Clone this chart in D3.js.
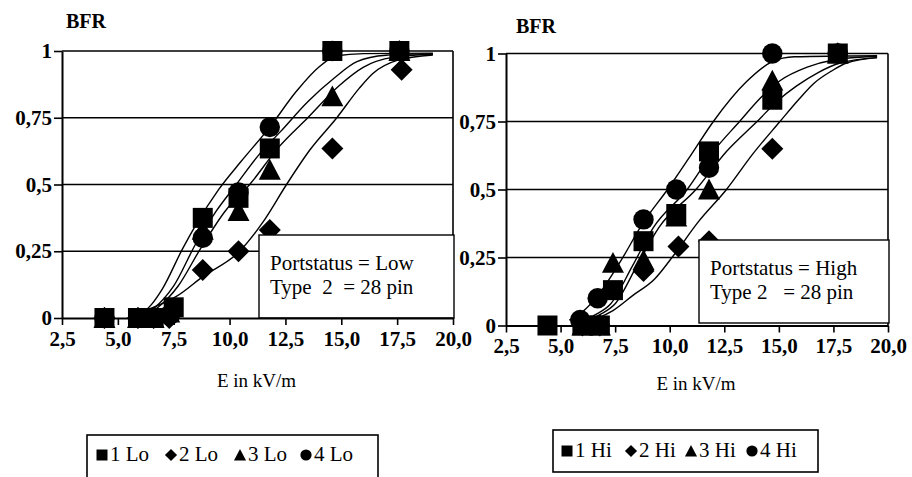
<!DOCTYPE html>
<html><head><meta charset="utf-8">
<script src="https://cdn.jsdelivr.net/npm/d3@7"></script>
<style>
body{margin:0;background:#fff}
svg{display:block}
svg text{font-family:"Liberation Serif","Times New Roman",serif !important;fill:#000}
</style>
</head><body>
<svg id="c" width="912" height="477"></svg>
<script>
// ---------- data ----------
const xTicks = [2.5, 5, 7.5, 10, 12.5, 15, 17.5, 20];
const xTickLabels = ["2,5", "5,0", "7,5", "10,0", "12,5", "15,0", "17,5", "20,0"];
const yTicks = [0, 0.25, 0.5, 0.75, 1];
const yTickLabels = ["0", "0,25", "0,5", "0,75", "1"];
const yTitle = "BFR";
const xTitle = "E in kV/m";

// Portstatus = Low
const lo1 = [[4.4,0],[5.9,0],[6.6,0],[7.5,0.04],[8.8,0.375],[10.4,0.45],[11.8,0.635],[14.6,1.0],[17.6,1.0]];
const lo2 = [[4.4,0],[5.9,0],[6.6,0],[7.3,0],[8.8,0.18],[10.4,0.25],[11.8,0.33],[14.6,0.635],[17.7,0.93]];
const lo3 = [[4.4,0],[5.9,0],[6.6,0],[7.3,0.02],[8.8,0.33],[10.4,0.40],[11.8,0.555],[14.6,0.83],[17.6,1.0]];
const lo4 = [[4.4,0],[5.9,0],[6.6,0],[7.3,0.01],[8.8,0.30],[10.4,0.47],[11.8,0.715],[14.6,1.0],[17.6,1.0]];
const loFitA = [[5.8,0],[6.5,0.05],[7.0,0.11],[7.9,0.26],[8.5,0.35],[9.5,0.48],[10.5,0.585],[11.8,0.715],[13.0,0.85],[14.0,0.94],[14.8,0.982],[16.0,0.99],[19.1,0.992]];
const loFitB = [[5.9,0],[6.6,0.035],[7.5,0.12],[8.5,0.28],[9.4,0.40],[10.3,0.50],[11.3,0.61],[12.3,0.70],[13.5,0.81],[14.7,0.90],[15.7,0.96],[17.0,0.984],[19.1,0.99]];
const loFitC = [[6.0,0],[6.8,0.04],[7.7,0.12],[8.7,0.26],[9.8,0.40],[10.9,0.50],[12.2,0.64],[13.5,0.75],[14.9,0.87],[16.0,0.94],[17.3,0.976],[19.1,0.988]];
const loFitD = [[5.8,0.015],[7.0,0.055],[7.6,0.08],[8.8,0.155],[10.45,0.25],[11.5,0.36],[12.55,0.5],[13.6,0.63],[14.8,0.75],[15.8,0.86],[16.4,0.915],[17.5,0.965],[19.1,0.985]];

// Portstatus = High
const hi1 = [[4.4,0],[6.0,0],[6.8,0],[7.4,0.13],[8.8,0.31],[10.3,0.41],[11.8,0.64],[14.7,0.83],[17.7,1.0]];
const hi2 = [[6.0,0],[6.8,0],[8.8,0.20],[10.4,0.29],[11.8,0.31],[14.7,0.65],[17.7,1.0]];
const hi3 = [[6.0,0],[6.8,0],[7.4,0.23],[8.8,0.24],[10.3,0.40],[11.8,0.50],[14.7,0.90],[17.7,1.0]];
const hi4 = [[5.9,0.02],[6.7,0.10],[8.8,0.39],[10.3,0.50],[11.8,0.58],[14.7,1.0],[17.7,1.0]];
const hiFitA = [[5.4,0.02],[6.0,0.05],[6.7,0.11],[7.7,0.23],[8.8,0.38],[9.9,0.50],[11.0,0.63],[12.0,0.75],[13.5,0.895],[14.7,0.97],[15.7,0.988],[19.5,0.992]];
const hiFitB = [[5.8,0.01],[6.6,0.04],[7.3,0.08],[8.3,0.22],[9.25,0.36],[10.8,0.50],[12.0,0.64],[13.2,0.75],[14.2,0.84],[15.05,0.90],[16.3,0.95],[17.5,0.976],[19.5,0.99]];
const hiFitC = [[6.0,0.01],[6.8,0.04],[7.5,0.08],[8.5,0.22],[9.5,0.36],[11.2,0.50],[12.6,0.64],[14.0,0.75],[15.0,0.83],[15.8,0.88],[16.8,0.93],[17.8,0.965],[19.5,0.985]];
const hiFitD = [[6.0,0.01],[6.65,0.026],[7.4,0.055],[8.3,0.11],[9.3,0.17],[10.2,0.26],[11.3,0.38],[12.6,0.50],[13.8,0.63],[15.05,0.75],[15.9,0.83],[16.6,0.89],[17.4,0.935],[18.1,0.965],[19.5,0.985]];

const loNames = ["1 Lo", "2 Lo", "3 Lo", "4 Lo"];
const hiNames = ["1 Hi", "2 Hi", "3 Hi", "4 Hi"];
const shapes = ["square", "diamond", "triangle", "circle"];
const loNote = ["Portstatus = Low", "Type  2  = 28 pin"];
const hiNote = ["Portstatus = High", "Type 2   = 28 pin"];

// ---------- drawing ----------
const SERIF = '"Liberation Serif", "Times New Roman", serif';
const svg = d3.select("#c");

function shapePath(type, r) {
  const p = d3.path();
  if (type === "square") { p.rect(-r, -r, 2*r, 2*r); }
  else if (type === "diamond") { const d = r*1.1; p.moveTo(0,-d); p.lineTo(d,0); p.lineTo(0,d); p.lineTo(-d,0); p.closePath(); }
  else if (type === "triangle") { const d = r*1.1; p.moveTo(0,-d); p.lineTo(d,d*0.9); p.lineTo(-d,d*0.9); p.closePath(); }
  else { p.arc(0,0,r*1.02,0,2*Math.PI); p.closePath(); }
  return p.toString();
}

function panel(cfg) {
  const x = d3.scaleLinear().domain([2.5, 20]).range([cfg.left, cfg.right]);
  const y = d3.scaleLinear().domain([0, 1]).range([cfg.bottom, cfg.top]);
  const g = svg.append("g");

  g.selectAll("line.grid").data(yTicks.filter(d => d > 0)).join("line")
    .attr("x1", cfg.left).attr("x2", cfg.right)
    .attr("y1", d => y(d)).attr("y2", d => y(d))
    .attr("stroke", "#000").attr("stroke-width", 1.6);
  g.append("line").attr("x1", cfg.right).attr("x2", cfg.right)
    .attr("y1", y(1)).attr("y2", y(0)).attr("stroke", "#000").attr("stroke-width", 1.6);

  const line = d3.line().x(d => x(d[0])).y(d => y(d[1])).curve(d3.curveMonotoneX);
  g.selectAll("path.fit").data(cfg.fits).join("path")
    .attr("d", line).attr("fill", "none").attr("stroke", "#000").attr("stroke-width", 1.4);

  cfg.series.forEach((s, i) => {
    g.selectAll(null).data(s).join("path")
      .attr("transform", d => `translate(${x(d[0])},${y(d[1])})`)
      .attr("d", shapePath(shapes[i], 10))
      .attr("fill", "#000");
  });

  g.append("rect").attr("x", cfg.box[0]).attr("y", cfg.box[1])
    .attr("width", cfg.box[2]).attr("height", cfg.box[3])
    .attr("fill", "#fff").attr("stroke", "#000").attr("stroke-width", 1.4);
  cfg.note.forEach((t, i) => {
    g.append("text").attr("x", cfg.box[0] + 11).attr("y", cfg.box[1] + 35 + i*24)
      .style("font-family", SERIF).style("font-size", "21px").style("white-space", "pre").text(t);
  });

  const xa = g.append("g").attr("transform", `translate(0,${cfg.bottom})`)
    .call(d3.axisBottom(x).tickValues(xTicks).tickFormat((d, i) => xTickLabels[i]).tickSizeInner(7).tickSizeOuter(0).tickPadding(6));
  xa.attr("font-family", null).attr("font-size", null);
  xa.select(".domain").attr("stroke-width", 2);
  xa.selectAll(".tick line").attr("stroke-width", 1.6);
  xa.selectAll("text").style("font-family", SERIF).style("font-size", "21px").style("font-weight", "bold");

  const ya = g.append("g").attr("transform", `translate(${cfg.left},0)`)
    .call(d3.axisLeft(y).tickValues(yTicks).tickFormat((d, i) => yTickLabels[i]).tickSizeInner(8).tickSizeOuter(0).tickPadding(2));
  ya.attr("font-family", null).attr("font-size", null);
  ya.select(".domain").attr("stroke-width", 2);
  ya.selectAll(".tick line").attr("stroke-width", 1.6);
  ya.selectAll("text").style("font-family", SERIF).style("font-size", "21px").style("font-weight", "bold");

  g.append("text").attr("x", cfg.yTitle[0]).attr("y", cfg.yTitle[1])
    .style("font-family", SERIF).style("font-size", "20px").style("font-weight", "bold").text(yTitle);
  g.append("text").attr("x", (cfg.left + cfg.right) / 2 - 1).attr("y", cfg.xTitleY)
    .attr("text-anchor", "middle").style("font-family", SERIF).style("font-size", "19px").text(xTitle);

  const lg = cfg.legend;
  svg.append("rect").attr("x", lg.box[0]).attr("y", lg.box[1]).attr("width", lg.box[2]).attr("height", lg.box[3])
    .attr("fill", "none").attr("stroke", "#000").attr("stroke-width", 1.6);
  cfg.names.forEach((n, i) => {
    svg.append("path").attr("transform", `translate(${lg.sym[i]},${lg.baseline - 6})`)
      .attr("d", shapePath(shapes[i], 5.5)).attr("fill", "#000");
    svg.append("text").attr("x", lg.sym[i] + 8).attr("y", lg.baseline)
      .style("font-family", SERIF).style("font-size", "21px").text(n);
  });
}

panel({
  left: 62, right: 453, top: 51, bottom: 318,
  series: [lo1, lo2, lo3, lo4], fits: [loFitA, loFitB, loFitC, loFitD],
  box: [259, 235, 195, 83], note: loNote,
  yTitle: [66, 28], xTitleY: 387, names: loNames,
  legend: { box: [87, 435, 291, 60], sym: [102, 171, 240, 306], baseline: 461 }
});
panel({
  left: 506, right: 888, top: 53.5, bottom: 325.5,
  series: [hi1, hi2, hi3, hi4], fits: [hiFitA, hiFitB, hiFitC, hiFitD],
  box: [699, 240, 190, 83], note: hiNote,
  yTitle: [516, 33], xTitleY: 390, names: hiNames,
  legend: { box: [553, 430, 265, 42], sym: [567, 631, 691, 752], baseline: 457 }
});
</script>
</body></html>
